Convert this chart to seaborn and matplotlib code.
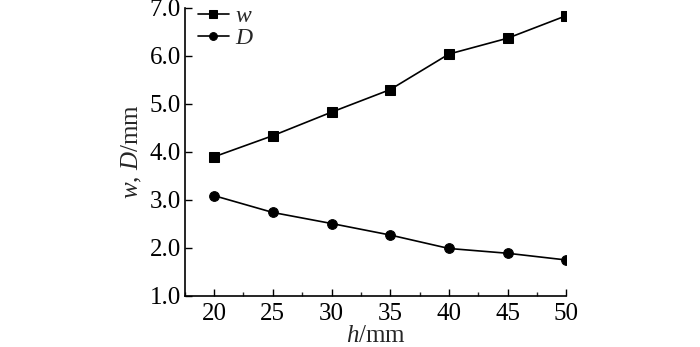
import matplotlib
matplotlib.use("Agg")
import matplotlib.pyplot as plt
import seaborn as sns
import pandas as pd
from matplotlib.ticker import MultipleLocator

h = [20, 25, 30, 35, 40, 45, 50]
w = [3.90, 4.34, 4.83, 5.30, 6.04, 6.37, 6.84]
D = [3.09, 2.74, 2.51, 2.27, 1.99, 1.89, 1.75]
yticks = [1.0, 2.0, 3.0, 4.0, 5.0, 6.0, 7.0]
xticks = [20, 25, 30, 35, 40, 45, 50]

sns.set_theme(style="ticks")
plt.rcParams["font.family"] = ["Liberation Serif", "DejaVu Serif"]
plt.rcParams["mathtext.fontset"] = "custom"
plt.rcParams["mathtext.rm"] = "Liberation Serif"
plt.rcParams["mathtext.it"] = "Liberation Serif:italic"

df = pd.DataFrame({"h": h * 2, "v": w + D,
                   "s": ["$w$"] * len(h) + ["$D$"] * len(h)})

fig = plt.figure(figsize=(7.0, 3.47), dpi=100)
ax = fig.add_axes([0.264, 0.147, 0.545, 0.830])
sns.lineplot(data=df, x="h", y="v", hue="s", style="s",
             markers={"$w$": "s", "$D$": "o"}, dashes=False,
             palette={"$w$": "black", "$D$": "black"},
             markersize=7, linewidth=1.2, markeredgecolor="black",
             ax=ax, legend=True)

ax.set_xlim(17.5, 50)
ax.set_ylim(1.0, 7.0)
ax.set_xticks(xticks)
ax.set_yticks(yticks)
ax.set_yticklabels([f"{v:.1f}" for v in yticks])
ax.xaxis.set_minor_locator(MultipleLocator(2.5))
ax.tick_params(axis="both", which="major", direction="in", length=5,
               width=1.0, labelsize=18, colors="black")
ax.tick_params(axis="x", which="minor", direction="in", length=3, width=1.0)
ax.tick_params(axis="x", pad=5)
ax.tick_params(axis="y", pad=3)
for s in ["top", "right"]:
    ax.spines[s].set_visible(False)
for s in ["left", "bottom"]:
    ax.spines[s].set_linewidth(1.2)
    ax.spines[s].set_color("black")

ax.set_xlabel("$h$/mm", fontsize=18, labelpad=0)
ax.set_ylabel("$w$, $D$/mm", fontsize=18, labelpad=4)

leg = ax.legend(loc="upper left", frameon=False, fontsize=17,
                handlelength=1.3, handletextpad=0.25, labelspacing=0.0,
                borderaxespad=0.0, markerscale=0.8,
                bbox_to_anchor=(0.01, 1.04))

fig.savefig("out.png", dpi=100)
